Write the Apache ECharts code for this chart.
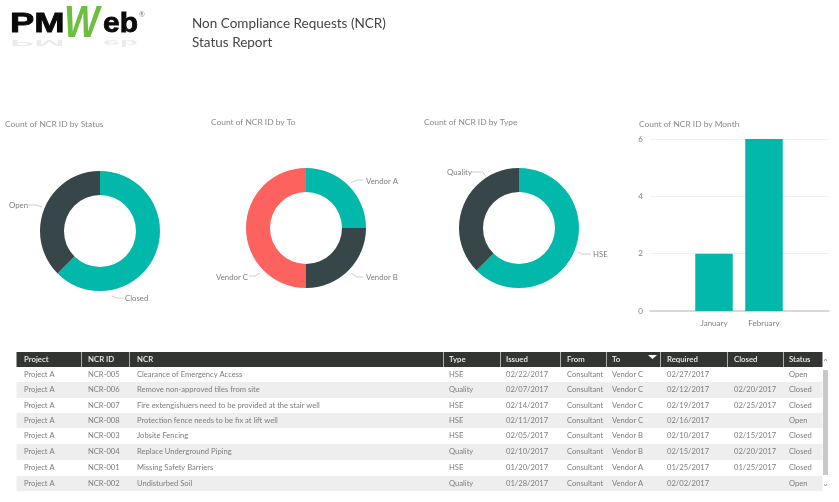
<!DOCTYPE html>
<html>
<head>
<meta charset="utf-8">
<title>Non Compliance Requests (NCR) Status Report</title>
<script src="https://cdn.jsdelivr.net/npm/echarts@6/dist/echarts.min.js"></script>
<style>
html, body { margin: 0; padding: 0; background: #fff; }
#main { width: 839px; height: 502px; }
</style>
</head>
<body>
<div id="main"></div>
<script>
// donuts
var statusNames = ['Closed', 'Open'];
var statusCounts = [5, 3];
var toNames = ['Vendor A', 'Vendor B', 'Vendor C'];
var toCounts = [2, 2, 4];
var typeNames = ['HSE', 'Quality'];
var typeCounts = [5, 3];

// bars
var months = ['January', 'February'];
var monthCounts = [2, 6];
var countTicks = [0, 2, 4, 6];

// table
var headers = ['Project', 'NCR ID', 'NCR', 'Type', 'Issued', 'From', 'To', 'Required', 'Closed', 'Status'];
var projects = ['Project A', 'Project A', 'Project A', 'Project A', 'Project A', 'Project A', 'Project A', 'Project A'];
var ncrIds = ['NCR-005', 'NCR-006', 'NCR-007', 'NCR-008', 'NCR-003', 'NCR-004', 'NCR-001', 'NCR-002'];
var ncrNames = ['Clearance of Emergency Access', 'Remove non-approved tiles from site', 'Fire extengishuers need to be provided at the stair well', 'Protection fence needs to be fix at lift well', 'Jobsite Fencing', 'Replace Underground Piping', 'Missing Safety Barriers', 'Undisturbed Soil'];
var ncrTypes = ['HSE', 'Quality', 'HSE', 'HSE', 'HSE', 'Quality', 'HSE', 'Quality'];
var issuedDates = ['02/22/2017', '02/07/2017', '02/14/2017', '02/11/2017', '02/05/2017', '02/10/2017', '01/20/2017', '01/28/2017'];
var fromParty = ['Consultant', 'Consultant', 'Consultant', 'Consultant', 'Consultant', 'Consultant', 'Consultant', 'Consultant'];
var toParty = ['Vendor C', 'Vendor C', 'Vendor C', 'Vendor C', 'Vendor B', 'Vendor B', 'Vendor A', 'Vendor A'];
var requiredDates = ['02/27/2017', '02/12/2017', '02/19/2017', '02/16/2017', '02/10/2017', '02/15/2017', '01/25/2017', '02/02/2017'];
var closedDates = ['', '02/20/2017', '02/25/2017', '', '02/15/2017', '02/20/2017', '01/25/2017', ''];
var statuses = ['Open', 'Closed', 'Closed', 'Open', 'Closed', 'Closed', 'Closed', 'Open'];

var TEAL = '#01B8AA', DARK = '#374649', RED = '#FD625E';
var FONT = 'Lato, "Open Sans", sans-serif';

var chart = echarts.init(document.getElementById('main'));

// layouts: label spots, the reference doesn't keep them at the slice middle
// the library's label line stays on but invisible, it keeps room for the label on the left edge
function donut(names, counts, colors, cx, cy, layouts) {
	return {
		type: 'pie',
		center: [cx, cy],
		radius: [36, 60],
		startAngle: 90,
		silent: true,
		data: names.map(function (n, i) {
			return { name: n, value: counts[i], itemStyle: { color: colors[i] } };
		}),
		label: { formatter: '{b}', color: '#7d7d7d', fontSize: 7.8, fontFamily: FONT, bleedMargin: 0 },
		labelLine: { show: true, length: 8, length2: 9, lineStyle: { opacity: 0 } },
		labelLayout: function (params) {
			return (layouts && layouts[params.dataIndex]) || {};
		},
		emphasis: { disabled: true }
	};
}

// table pieces, drawn as graphic elements
var columns = [projects, ncrIds, ncrNames, ncrTypes, issuedDates, fromParty, toParty, requiredDates, closedDates, statuses];
var colX = [24, 88, 137, 449, 506, 567, 612, 667, 734, 789];
var sepX = [81, 129, 443, 500, 560, 606, 660, 727, 783];
var rowTop = [367, 382, 398, 413, 428, 444, 460, 476];
var rowBottom = 491;
var gfx = [];

gfx.push({ type: 'rect', shape: { x: 16.5, y: 352, width: 806, height: 15 }, style: { fill: '#333533' } });
sepX.forEach(function (x) {
	gfx.push({ type: 'rect', shape: { x: x, y: 352, width: 0.8, height: 15 }, style: { fill: '#cfcfcf' } });
});
headers.forEach(function (h, i) {
	gfx.push({ type: 'text', x: colX[i], y: 359.5, style: { text: h, fill: '#f0f0f0', font: '600 7.8px ' + FONT, textVerticalAlign: 'middle' } });
});
rowTop.forEach(function (top, r) {
	var bottom = r + 1 < rowTop.length ? rowTop[r + 1] : rowBottom;
	if (r % 2 === 1) {
		gfx.push({ type: 'rect', shape: { x: 16.5, y: top, width: 806, height: bottom - top }, style: { fill: '#eeeeee' } });
	}
	columns.forEach(function (col, c) {
		gfx.push({ type: 'text', x: colX[c], y: (top + bottom) / 2, style: { text: col[r], fill: '#7d7d7d', font: '7.6px ' + FONT, textVerticalAlign: 'middle' } });
	});
});
// sort marker and scrollbar
gfx.push({ type: 'polygon', shape: { points: [[648, 355], [657, 355], [652.5, 359]] }, style: { fill: '#fff' } });
gfx.push({ type: 'rect', shape: { x: 823, y: 370, width: 5, height: 105 }, style: { fill: '#c9c9c9' } });
gfx.push({ type: 'polyline', shape: { points: [[824, 361], [825.5, 359], [827, 361]] }, style: { stroke: '#888', fill: null, lineWidth: 0.8 } });
gfx.push({ type: 'polyline', shape: { points: [[824, 484], [825.5, 486], [827, 484]] }, style: { stroke: '#888', fill: null, lineWidth: 0.8 } });

// short leader lines between the donut labels and the rings
[
	[[112, 296], [117, 298], [123, 298]],
	[[28, 205], [36, 205], [42, 207]],
	[[351, 183], [357, 180], [363, 180]],
	[[351, 273], [357, 277], [363, 277]],
	[[249, 276], [255, 276], [260, 273]],
	[[578, 252], [582, 254], [591, 254]],
	[[472, 172], [483, 172], [486, 177]]
].forEach(function (pts) {
	gfx.push({ type: 'polyline', shape: { points: pts }, style: { stroke: '#c8c8c8', fill: null, lineWidth: 0.9 } });
});

// logo
var logoFont = '900 28px "Liberation Sans", Arial, sans-serif';
[['PM', 10, 1.3], ['eb', 103, 1.07]].forEach(function (p) {
	gfx.push({ type: 'text', x: p[1], y: 38, scaleY: -0.35, scaleX: p[2], style: { text: p[0], fill: '#000', opacity: 0.08, font: logoFont, textVerticalAlign: 'bottom' } });
	gfx.push({ type: 'text', x: p[1], y: 38, scaleX: p[2], style: { text: p[0], fill: '#0a0a0a', font: logoFont, textVerticalAlign: 'bottom', stroke: '#0a0a0a', lineWidth: 0.8 } });
});
gfx.push({ type: 'text', x: 64, y: 47, scaleX: 0.85, style: { text: 'W', fill: '#6cbf3f', font: 'italic 900 44px "Liberation Sans", Arial, sans-serif', textVerticalAlign: 'bottom' } });
gfx.push({ type: 'text', x: 139, y: 15, style: { text: '®', fill: '#777', font: '7px ' + FONT, textVerticalAlign: 'middle' } });

var titleStyle = { color: '#8a8a8a', fontSize: 8.4, fontWeight: 'normal', fontFamily: FONT };

chart.setOption({
	animation: false,
	backgroundColor: '#fff',
	title: [
		{ text: 'Non Compliance Requests (NCR)\nStatus Report', left: 192, top: 14, padding: 0, textStyle: { color: '#444', fontSize: 13.5, fontWeight: 'normal', fontFamily: FONT, lineHeight: 19 } },
		{ text: 'Count of NCR ID by Status', left: 5, top: 120, padding: 0, textStyle: titleStyle },
		{ text: 'Count of NCR ID by To', left: 211, top: 118, padding: 0, textStyle: titleStyle },
		{ text: 'Count of NCR ID by Type', left: 424, top: 118, padding: 0, textStyle: titleStyle },
		{ text: 'Count of NCR ID by Month', left: 639, top: 120, padding: 0, textStyle: titleStyle }
	],
	grid: [
		{ left: 650, top: 139, width: 179, height: 172 },
		{ left: 689, top: 139, width: 100, height: 172 }
	],
	xAxis: [
		{ gridIndex: 0, type: 'value', min: 0, max: 1, axisLabel: { show: false }, axisTick: { show: false }, splitLine: { show: false },
			axisLine: { show: true, lineStyle: { color: '#cfcfcf', width: 1.5 } } },
		{ gridIndex: 1, type: 'category', data: months, axisLine: { show: false }, axisTick: { show: false },
			axisLabel: { color: '#808080', fontSize: 8, fontFamily: FONT, margin: 8, interval: 0 } }
	],
	yAxis: [
		{ gridIndex: 0, type: 'value', min: countTicks[0], max: countTicks[countTicks.length - 1], interval: 2,
			axisLine: { show: false }, axisTick: { show: false },
			axisLabel: { color: '#808080', fontSize: 8, fontFamily: FONT, margin: 7 },
			splitLine: { lineStyle: { color: '#f1f1f1', width: 1 } } },
		{ gridIndex: 1, type: 'value', min: countTicks[0], max: countTicks[countTicks.length - 1], interval: 2, show: false }
	],
	series: [
		donut(statusNames, statusCounts, [TEAL, DARK], 100, 231, [{ x: 125, y: 298, align: 'left', verticalAlign: 'middle' }, { x: 9, y: 205, align: 'left', verticalAlign: 'middle' }]),
		donut(toNames, toCounts, [TEAL, DARK, RED], 306, 228, [{ x: 366, y: 181, align: 'left', verticalAlign: 'middle' }, { x: 366, y: 277, align: 'left', verticalAlign: 'middle' }, { x: 216, y: 277, align: 'left', verticalAlign: 'middle' }]),
		donut(typeNames, typeCounts, [TEAL, DARK], 519, 228, [{ x: 593, y: 254, align: 'left', verticalAlign: 'middle' }, { x: 447, y: 172, align: 'left', verticalAlign: 'middle' }]),
		{
			type: 'bar',
			xAxisIndex: 1,
			yAxisIndex: 1,
			data: monthCounts,
			barWidth: 37.5,
			silent: true,
			itemStyle: { color: TEAL }
		}
	],
	graphic: gfx
});
</script>
</body>
</html>
